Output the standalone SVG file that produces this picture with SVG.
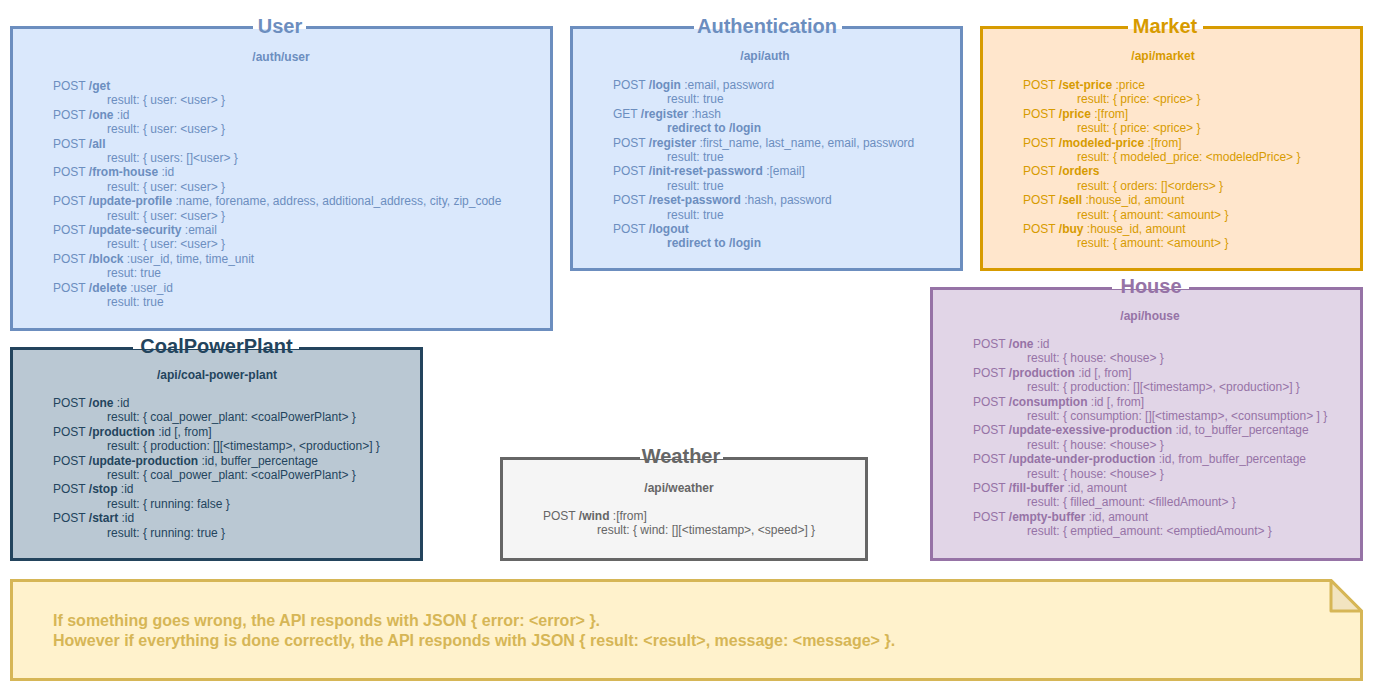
<svg xmlns="http://www.w3.org/2000/svg" width="1373" height="692" viewBox="0 0 1373 692">
<style>
text{font-family:"Liberation Sans",Arial,Helvetica,sans-serif;font-size:12px}
.b{font-weight:bold}
.title{font-size:20px;font-weight:bold;text-anchor:middle}
.hdr{font-weight:bold;text-anchor:middle}
.box{stroke-width:3}
.bg{fill:#ffffff}
.blue .box{fill:#dae8fc;stroke:#6c8ebf}
.blue text{fill:#6c8ebf}
.orange .box{fill:#ffe6cc;stroke:#d79b00}
.orange text{fill:#d79b00}
.purple .box{fill:#e1d5e7;stroke:#9673a6}
.purple text{fill:#9673a6}
.dark .box{fill:#bac8d3;stroke:#23445d}
.dark text{fill:#23445d}
.gray .box{fill:#f5f5f5;stroke:#666666}
.gray text{fill:#666666}
.note .box{fill:#fff2cc;stroke:#d6b656}
.note .fold{fill:#f2e4c0;stroke:#d6b656;stroke-width:3;stroke-linejoin:round}
.note text{fill:#d6b656;font-size:16px;font-weight:bold}
</style>
<rect width="1373" height="692" fill="#ffffff"/>

<g id="user" class="blue">
<rect class="box" x="11.5" y="27.5" width="540" height="302"/>
<rect class="bg" x="253" y="12" width="53" height="17"/>
<text class="title" x="280" y="33">User</text>
<text class="hdr" x="281" y="61">/auth/user</text>
<text x="53" y="90">POST <tspan class="b">/get</tspan></text>
<text x="107" y="104.4">result: { user: &lt;user&gt; }</text>
<text x="53" y="118.8">POST <tspan class="b">/one</tspan> :id</text>
<text x="107" y="133.2">result: { user: &lt;user&gt; }</text>
<text x="53" y="147.6">POST <tspan class="b">/all</tspan></text>
<text x="107" y="162">result: { users: []&lt;user&gt; }</text>
<text x="53" y="176.4">POST <tspan class="b">/from-house</tspan> :id</text>
<text x="107" y="190.8">result: { user: &lt;user&gt; }</text>
<text x="53" y="205.2">POST <tspan class="b">/update-profile</tspan> :name, forename, address, additional_address, city, zip_code</text>
<text x="107" y="219.6">result: { user: &lt;user&gt; }</text>
<text x="53" y="234">POST <tspan class="b">/update-security</tspan> :email</text>
<text x="107" y="248.4">result: { user: &lt;user&gt; }</text>
<text x="53" y="262.8">POST <tspan class="b">/block</tspan> :user_id, time, time_unit</text>
<text x="107" y="277.2">resut: true</text>
<text x="53" y="291.6">POST <tspan class="b">/delete</tspan> :user_id</text>
<text x="107" y="306">result: true</text>
</g>

<g id="authentication" class="blue">
<rect class="box" x="571.5" y="27.5" width="390" height="242"/>
<rect class="bg" x="694" y="12" width="148" height="17"/>
<text class="title" x="767" y="33">Authentication</text>
<text class="hdr" x="765" y="60">/api/auth</text>
<text x="613" y="89">POST <tspan class="b">/login</tspan> :email, password</text>
<text x="667" y="103.4">result: true</text>
<text x="613" y="117.8">GET <tspan class="b">/register</tspan> :hash</text>
<text x="667" y="132.2" class="b">redirect to /login</text>
<text x="613" y="146.6">POST <tspan class="b">/register</tspan> :first_name, last_name, email, password</text>
<text x="667" y="161">result: true</text>
<text x="613" y="175.4">POST <tspan class="b">/init-reset-password</tspan> :[email]</text>
<text x="667" y="189.8">result: true</text>
<text x="613" y="204.2">POST <tspan class="b">/reset-password</tspan> :hash, password</text>
<text x="667" y="218.6">result: true</text>
<text x="613" y="233">POST <tspan class="b">/logout</tspan></text>
<text x="667" y="247.4" class="b">redirect to /login</text>
</g>

<g id="market" class="orange">
<rect class="box" x="981.5" y="27.5" width="380" height="242"/>
<rect class="bg" x="1128" y="12" width="75" height="17"/>
<text class="title" x="1165" y="33">Market</text>
<text class="hdr" x="1163" y="60">/api/market</text>
<text x="1023" y="89">POST <tspan class="b">/set-price</tspan> :price</text>
<text x="1077" y="103.4">result: { price: &lt;price&gt; }</text>
<text x="1023" y="117.8">POST <tspan class="b">/price</tspan> :[from]</text>
<text x="1077" y="132.2">result: { price: &lt;price&gt; }</text>
<text x="1023" y="146.6">POST <tspan class="b">/modeled-price</tspan> :[from]</text>
<text x="1077" y="161">result: { modeled_price: &lt;modeledPrice&gt; }</text>
<text x="1023" y="175.4">POST <tspan class="b">/orders</tspan></text>
<text x="1077" y="189.8">result: { orders: []&lt;orders&gt; }</text>
<text x="1023" y="204.2">POST <tspan class="b">/sell</tspan> :house_id, amount</text>
<text x="1077" y="218.6">result: { amount: &lt;amount&gt; }</text>
<text x="1023" y="233">POST <tspan class="b">/buy</tspan> :house_id, amount</text>
<text x="1077" y="247.4">result: { amount: &lt;amount&gt; }</text>
</g>

<g id="house" class="purple">
<rect class="box" x="931.5" y="288.5" width="430" height="271"/>
<rect class="bg" x="1112" y="272" width="77" height="17"/>
<text class="title" x="1151" y="293">House</text>
<text class="hdr" x="1150" y="320">/api/house</text>
<text x="973" y="348">POST <tspan class="b">/one</tspan> :id</text>
<text x="1027" y="362.4">result: { house: &lt;house&gt; }</text>
<text x="973" y="376.8">POST <tspan class="b">/production</tspan> :id [, from]</text>
<text x="1027" y="391.2">result: { production: [][&lt;timestamp&gt;, &lt;production&gt;] }</text>
<text x="973" y="405.6">POST <tspan class="b">/consumption</tspan> :id [, from]</text>
<text x="1027" y="420">result: { consumption: [][&lt;timestamp&gt;, &lt;consumption&gt; ] }</text>
<text x="973" y="434.4">POST <tspan class="b">/update-exessive-production</tspan> :id, to_buffer_percentage</text>
<text x="1027" y="448.8">result: { house: &lt;house&gt; }</text>
<text x="973" y="463.2">POST <tspan class="b">/update-under-production</tspan> :id, from_buffer_percentage</text>
<text x="1027" y="477.6">result: { house: &lt;house&gt; }</text>
<text x="973" y="492">POST <tspan class="b">/fill-buffer</tspan> :id, amount</text>
<text x="1027" y="506.4">result: { filled_amount: &lt;filledAmount&gt; }</text>
<text x="973" y="520.8">POST <tspan class="b">/empty-buffer</tspan> :id, amount</text>
<text x="1027" y="535.2">result: { emptied_amount: &lt;emptiedAmount&gt; }</text>
</g>

<g id="coalpowerplant" class="dark">
<rect class="box" x="11.5" y="348.5" width="410" height="211"/>
<rect class="bg" x="133" y="332" width="166" height="17"/>
<text class="title" x="216.5" y="353">CoalPowerPlant</text>
<text class="hdr" x="217" y="379">/api/coal-power-plant</text>
<text x="53" y="407">POST <tspan class="b">/one</tspan> :id</text>
<text x="107" y="421.4">result: { coal_power_plant: &lt;coalPowerPlant&gt; }</text>
<text x="53" y="435.8">POST <tspan class="b">/production</tspan> :id [, from]</text>
<text x="107" y="450.2">result: { production: [][&lt;timestamp&gt;, &lt;production&gt;] }</text>
<text x="53" y="464.6">POST <tspan class="b">/update-production</tspan> :id, buffer_percentage</text>
<text x="107" y="479">result: { coal_power_plant: &lt;coalPowerPlant&gt; }</text>
<text x="53" y="493.4">POST <tspan class="b">/stop</tspan> :id</text>
<text x="107" y="507.8">result: { running: false }</text>
<text x="53" y="522.2">POST <tspan class="b">/start</tspan> :id</text>
<text x="107" y="536.6">result: { running: true }</text>
</g>

<g id="weather" class="gray">
<rect class="box" x="501.5" y="458.5" width="365" height="101"/>
<rect class="bg" x="640" y="442" width="83" height="17"/>
<text class="title" x="681" y="463">Weather</text>
<text class="hdr" x="679" y="492">/api/weather</text>
<text x="543" y="520">POST <tspan class="b">/wind</tspan> :[from]</text>
<text x="597" y="534.4">result: { wind: [][&lt;timestamp&gt;, &lt;speed&gt;] }</text>
</g>

<g id="note" class="note">
<path class="box" d="M11.5 580.5 H1331 L1361.5 611 V679.5 H11.5 Z" stroke-width="3"/>
<path class="fold" d="M1331 580.5 V611 H1361.5 Z"/>
<text x="53" y="626">If something goes wrong, the API responds with JSON { error: &lt;error&gt; }.</text>
<text x="53" y="646">However if everything is done correctly, the API responds with JSON { result: &lt;result&gt;, message: &lt;message&gt; }.</text>
</g>

<g id="connectors"></g>
</svg>
